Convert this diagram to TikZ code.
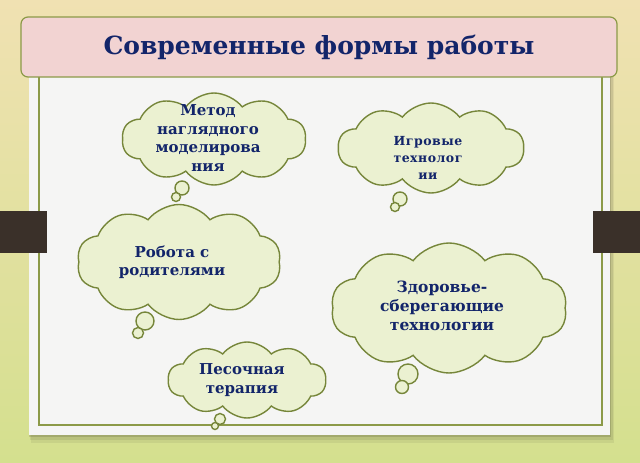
\documentclass[tikz,border=0pt]{standalone}
\usepackage{fontspec}
\setmainfont{DejaVu Serif}
\newfontfamily\spacedfont[LetterSpace=4]{DejaVu Serif}
\usetikzlibrary{shapes.symbols}
\definecolor{bgtop}{HTML}{F0E1B2}
\definecolor{bgbot}{HTML}{D4E08E}
\definecolor{titlefill}{HTML}{F2D3D2}
\definecolor{olive}{HTML}{8C9A48}
\definecolor{navy}{HTML}{13256A}
\definecolor{cloudfill}{HTML}{EBF1D1}
\definecolor{cloudline}{HTML}{76863A}
\definecolor{tabcol}{HTML}{3A3029}
\definecolor{panel}{HTML}{F5F5F4}
\tikzset{
  cloudbox/.style={cloud, cloud puffs=10, cloud puff arc=105, cloud ignores aspect, draw=cloudline, fill=cloudfill, line width=1.4pt, inner sep=0pt},
  bubble/.style={draw=cloudline, fill=cloudfill, line width=1.4pt},
  cloudtext/.style={text=navy, font=\bfseries\fontsize{15}{18.5}\selectfont, align=center, inner sep=0pt},
  titlebox/.style={draw=olive, fill=titlefill, line width=1.2pt, rounded corners=7pt, text=navy, font=\bfseries\fontsize{25}{30}\selectfont},
}
\begin{document}
\begin{tikzpicture}[x=1pt,y=-1pt]
\useasboundingbox (0,0) rectangle (640,463);
\shade[top color=bgtop, bottom color=bgbot] (0,0) rectangle (640,463);
% panel shadow
\fill[black,opacity=0.06] (31,34) rectangle (614,443);
\fill[black,opacity=0.08] (30,32) rectangle (613,440);
\fill[black,opacity=0.12] (29,31) rectangle (611,437);
\fill[panel] (29,30) rectangle (610,435);
\draw[olive, line width=1.5pt] (39,60) rectangle (602,425);
% tabs
\fill[tabcol] (0,211) rectangle (47,253);
\fill[tabcol] (593,211) rectangle (640,253);
% title
\node[titlebox, minimum width=596pt, minimum height=60pt] (title) at (319,47) {Современные формы работы};
% cloud 1
\node[cloudbox, minimum width=184pt, minimum height=92pt] (c1) at (214,139) {};
\draw[bubble] (182,188) circle (7);
\draw[bubble] (176,197) circle (4.5);
\node[cloudtext] (t1) at (208,138) {Метод\\наглядного\\моделирова\\ния};
% cloud 2
\node[cloudbox, minimum width=186pt, minimum height=90pt] (c2) at (431,148) {};
\draw[bubble] (400,199) circle (7);
\draw[bubble] (395,207) circle (4.5);
\node[cloudtext, font=\spacedfont\bfseries\fontsize{12.5}{17}\selectfont] (t2) at (428,158) {Игровые\\технолог\\ии};
% cloud 3
\node[cloudbox, minimum width=204pt, minimum height=115pt] (c3) at (179,262) {};
\draw[bubble] (145,321) circle (9);
\draw[bubble] (138,333) circle (5.5);
\node[cloudtext] (t3) at (172,262) {Робота с\\родителями};
% cloud 4
\node[cloudbox, minimum width=236pt, minimum height=130pt] (c4) at (449,308) {};
\draw[bubble] (408,374) circle (10);
\draw[bubble] (402,387) circle (6.5);
\node[cloudtext, font=\bfseries\fontsize{15.5}{19}\selectfont] (t4) at (442,306) {Здоровье-\\сберегающие\\технологии};
% cloud 5
\node[cloudbox, minimum width=158pt, minimum height=76pt] (c5) at (247,380) {};
\draw[bubble] (220,419) circle (5.5);
\draw[bubble] (215,426) circle (3.5);
\node[cloudtext] (t5) at (242,380) {Песочная\\терапия};
\end{tikzpicture}
\end{document}
